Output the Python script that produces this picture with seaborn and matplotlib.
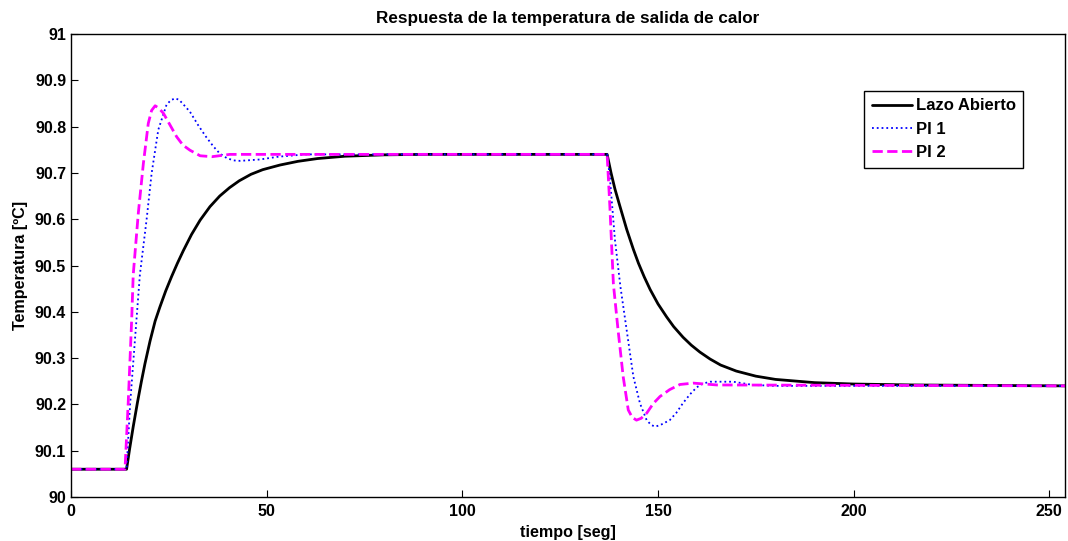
import matplotlib
matplotlib.use('Agg')
import matplotlib.pyplot as plt
import seaborn as sns
from matplotlib.ticker import FuncFormatter

sns.set_style("white")
plt.rcParams['font.family'] = ['Liberation Sans', 'DejaVu Sans']
plt.rcParams['font.weight'] = 'bold'
plt.rcParams['text.color'] = 'black'
plt.rcParams['axes.labelcolor'] = 'black'

# Lazo Abierto (open loop)
lazo_t = [0, 14.2, 15, 15.9, 17, 18, 18.9, 20.2, 21.5, 22.7, 24.2, 25.7, 27.2, 28.7, 30.8, 33,
          35.5, 38, 40.5, 43, 46, 49, 53.4, 58, 63, 70, 80, 90,
          137, 138, 139, 140.3, 142, 143.7, 145, 146.5, 148, 150, 152.2, 154, 156.4, 158.5, 160.7,
          163.3, 166, 170, 175, 180, 190, 200, 215, 254]
lazo_y = [90.06, 90.06, 90.105, 90.152, 90.205, 90.25, 90.288, 90.337, 90.38, 90.41, 90.445,
          90.476, 90.505, 90.532, 90.567, 90.598, 90.627, 90.65, 90.668, 90.683, 90.697, 90.707,
          90.717, 90.725, 90.731, 90.736, 90.739, 90.74,
          90.74, 90.70, 90.665, 90.627, 90.578, 90.535, 90.505, 90.475, 90.448, 90.417, 90.389,
          90.368, 90.345, 90.328, 90.313, 90.298, 90.285, 90.272, 90.261, 90.254, 90.247, 90.244,
          90.242, 90.24]

# PI 1
pi1_t = [0, 14.2, 15.1, 16.4, 17.6, 19.3, 20.6, 22.3, 24.4, 25.5, 26.6, 27.6, 28.5, 30.4, 32.5,
         34.5, 36.4, 38, 39.8, 41.5, 43.2, 48.3, 53, 60,
         137, 137.7, 139, 140.4, 142, 143.7, 145.4, 147.1, 148.2, 149.2, 150.5, 153, 154.7, 156.4,
         158.2, 159.9, 161.5, 163.3, 169.2, 174.3, 180, 254]
pi1_y = [90.06, 90.06, 90.2, 90.346, 90.48, 90.598, 90.699, 90.793, 90.847, 90.857, 90.861, 90.858,
         90.85, 90.832, 90.803, 90.778, 90.757, 90.742, 90.732, 90.727, 90.726, 90.729, 90.735,
         90.74,
         90.74, 90.69, 90.555, 90.454, 90.36, 90.26, 90.202, 90.166, 90.156, 90.152, 90.155,
         90.166, 90.182, 90.203, 90.222, 90.237, 90.245, 90.249, 90.249, 90.242, 90.24, 90.24]

# PI 2
pi2_t = [0, 13.8, 14.6, 15.5, 15.9, 17.2, 18.5, 19.75, 20.6, 21.5, 22.4, 23.6, 25.2, 27.0, 28.6,
         30.4, 33.0, 36, 40.6,
         137, 137.7, 138.6, 139.8, 141.1, 142.4, 143.4, 144.5, 145.7, 147.1, 148.8, 150.5, 153,
         155.6, 159, 165, 254]
pi2_y = [90.06, 90.06, 90.2, 90.382, 90.48, 90.613, 90.721, 90.807, 90.835, 90.845, 90.84, 90.829,
         90.805, 90.778, 90.76, 90.749, 90.737, 90.735, 90.74,
         90.74, 90.627, 90.46, 90.36, 90.26, 90.188, 90.172, 90.166, 90.17, 90.181, 90.202, 90.217,
         90.232, 90.243, 90.246, 90.242, 90.24]

fig = plt.figure(figsize=(10.68, 5.41), dpi=100)
ax = fig.add_axes([71 / 1068, 1 - 497 / 541, 994 / 1068, 463 / 541])

sns.lineplot(x=lazo_t, y=lazo_y, ax=ax, color='black', linewidth=2, label='Lazo Abierto')
sns.lineplot(x=pi1_t, y=pi1_y, ax=ax, color='#0000ff', linewidth=1.3, linestyle=':', label='PI 1')
sns.lineplot(x=pi2_t, y=pi2_y, ax=ax, color='#ff00ff', linewidth=2, linestyle='--', label='PI 2')

ax.set_xlim(0, 254)
ax.set_ylim(90, 91)
ax.set_xticks([0, 50, 100, 150, 200, 250])
ax.set_yticks([90 + i / 10 for i in range(11)])
ax.yaxis.set_major_formatter(FuncFormatter(lambda v, p: f'{v:g}'))
ax.tick_params(direction='in', length=5, width=0.8, labelsize=11.5, colors='black',
               bottom=True, left=True)
ax.tick_params(axis='x', pad=5)
for lbl in ax.get_xticklabels() + ax.get_yticklabels():
    lbl.set_fontweight('bold')
for s in ax.spines.values():
    s.set_color('black')
    s.set_linewidth(1)

ax.set_title('Respuesta de la temperatura de salida de calor', fontsize=12.3, fontweight='bold',
             pad=8, color='black')
ax.set_xlabel('tiempo [seg]', fontsize=11.6, fontweight='bold', labelpad=4, color='black')
ax.set_ylabel('Temperatura [ºC]', fontsize=11.6, fontweight='bold', labelpad=5, color='black')

leg = ax.legend(loc='upper left', bbox_to_anchor=(0.798, 0.877), borderaxespad=0,
                fancybox=False, edgecolor='black', framealpha=1, handlelength=2.4,
                handletextpad=0.25, prop={'size': 12, 'weight': 'bold'}, labelspacing=0.5,
                borderpad=0.45)
leg.get_frame().set_linewidth(1)
for txt in leg.get_texts():
    txt.set_color('black')

fig.savefig('out.png', dpi=100)
